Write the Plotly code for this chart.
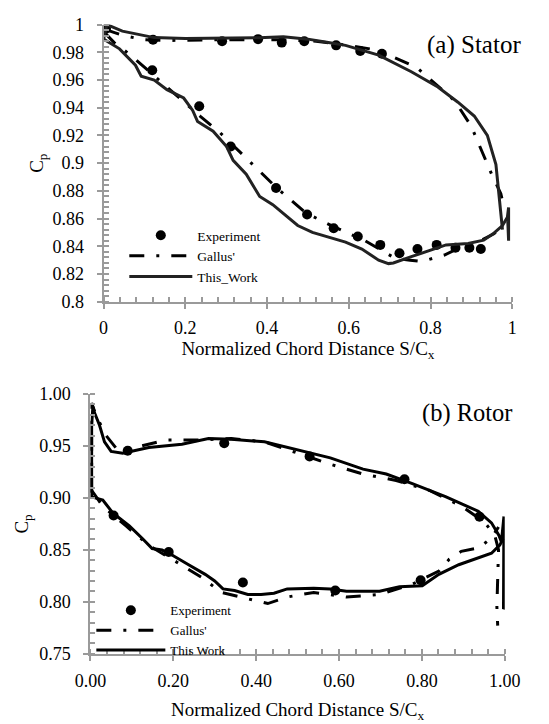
import plotly.graph_objects as go

# ---------------- (a) Stator ----------------
st_exp_x = [0.006, 0.121, 0.290, 0.378, 0.436, 0.491, 0.569, 0.628, 0.681,
            0.119, 0.234, 0.311, 0.422, 0.498, 0.563, 0.622, 0.677, 0.724,
            0.768, 0.815, 0.861, 0.895, 0.923]
st_exp_y = [0.997, 0.989, 0.988, 0.9895, 0.987, 0.988, 0.985, 0.981, 0.979,
            0.967, 0.941, 0.912, 0.882, 0.863, 0.853, 0.847, 0.841, 0.835,
            0.838, 0.841, 0.839, 0.839, 0.838]

st_gal_up_x = [0.003, 0.05, 0.10, 0.15, 0.25, 0.35, 0.44, 0.52, 0.60, 0.673,
               0.766, 0.859, 0.899, 0.951, 0.972, 0.978]
st_gal_up_y = [0.9965, 0.992, 0.989, 0.9885, 0.989, 0.989, 0.989, 0.988, 0.985,
               0.9814, 0.969, 0.945, 0.927, 0.891, 0.878, 0.870]
st_gal_lo_x = [0.003, 0.026, 0.066, 0.139, 0.171, 0.236, 0.285, 0.373, 0.422,
               0.495, 0.559, 0.640, 0.713, 0.75, 0.778, 0.834, 0.875, 0.915,
               0.955, 0.980]
st_gal_lo_y = [0.994, 0.987, 0.978, 0.959, 0.951, 0.934, 0.922, 0.8965, 0.8826,
               0.864, 0.8547, 0.844, 0.8314, 0.830, 0.829, 0.8337, 0.8395, 0.843,
               0.849, 0.8547]

st_tw_up_x = [0.000, 0.008, 0.046, 0.124, 0.2, 0.3, 0.38, 0.44, 0.50, 0.55,
              0.592, 0.673, 0.753, 0.818, 0.867, 0.907, 0.939, 0.960, 0.966,
              0.972, 0.976]
st_tw_up_y = [0.9895, 1.000, 0.9953, 0.9906, 0.990, 0.990, 0.9905, 0.9912,
              0.9895, 0.987, 0.985, 0.978, 0.966, 0.955, 0.944, 0.934, 0.920,
              0.899, 0.882, 0.862, 0.852]
st_tw_lo_x = [0.000, 0.039, 0.078, 0.092, 0.124, 0.155, 0.196, 0.218, 0.230,
              0.268, 0.301, 0.317, 0.349, 0.382, 0.414, 0.446, 0.475, 0.511,
              0.592, 0.632, 0.673, 0.697, 0.709, 0.753, 0.802, 0.838, 0.892,
              0.930, 0.953, 0.976, 0.988, 0.991, 0.991, 0.989]
st_tw_lo_y = [0.9895, 0.9825, 0.9707, 0.9628, 0.960, 0.953, 0.947, 0.938, 0.930,
              0.923, 0.912, 0.902, 0.892, 0.876, 0.870, 0.862, 0.855, 0.850,
              0.843, 0.838, 0.830, 0.8275, 0.828, 0.8325, 0.8374, 0.841, 0.842,
              0.8444, 0.849, 0.855, 0.861, 0.868, 0.844, 0.858]

# ---------------- (b) Rotor ----------------
ro_exp_x = [0.090, 0.323, 0.529, 0.758, 0.939, 0.056, 0.189, 0.368, 0.591, 0.797]
ro_exp_y = [0.9455, 0.9526, 0.940, 0.918, 0.882, 0.883, 0.848, 0.8186, 0.8108, 0.8208]

ro_gal_up_x = [0.003, 0.003, 0.014, 0.038, 0.062, 0.102, 0.181, 0.261, 0.340,
               0.420, 0.499, 0.579, 0.658, 0.738, 0.817, 0.897, 0.952, 0.976,
               0.985, 0.982, 0.981, 0.983]
ro_gal_up_y = [0.905, 0.9915, 0.979, 0.960, 0.948, 0.948, 0.9557, 0.9557, 0.9573,
               0.954, 0.9433, 0.9324, 0.923, 0.9168, 0.9074, 0.8918, 0.8763,
               0.8638, 0.850, 0.820, 0.795, 0.777]
ro_gal_lo_x = [0.003, 0.030, 0.086, 0.141, 0.205, 0.269, 0.316, 0.380, 0.428,
               0.475, 0.539, 0.618, 0.698, 0.777, 0.841, 0.866, 0.895, 0.938,
               0.968, 0.985]
ro_gal_lo_y = [0.9074, 0.892, 0.873, 0.8544, 0.839, 0.8233, 0.809, 0.803, 0.7983,
               0.8046, 0.809, 0.8046, 0.807, 0.817, 0.8295, 0.841, 0.8486, 0.852,
               0.8614, 0.872]

ro_tw_up_x = [0.003, 0.003, 0.006, 0.010, 0.022, 0.034, 0.050, 0.078, 0.141,
              0.221, 0.285, 0.340, 0.420, 0.499, 0.579, 0.658, 0.714, 0.777,
              0.857, 0.936, 0.968, 0.986, 0.992, 0.998, 0.998, 0.997, 1.000]
ro_tw_up_y = [0.901, 0.970, 0.988, 0.982, 0.970, 0.954, 0.9448, 0.943, 0.9486,
              0.9517, 0.9573, 0.9564, 0.954, 0.9464, 0.9386, 0.9277, 0.923,
              0.9137, 0.9012, 0.8872, 0.876, 0.8638, 0.8576, 0.882, 0.82, 0.793,
              0.795]
ro_tw_lo_x = [0.003, 0.030, 0.054, 0.094, 0.126, 0.149, 0.173, 0.197, 0.237,
              0.277, 0.300, 0.320, 0.348, 0.380, 0.412, 0.443, 0.475, 0.539,
              0.579, 0.618, 0.698, 0.746, 0.801, 0.841, 0.889, 0.936, 0.968,
              0.988, 0.996]
ro_tw_lo_y = [0.901, 0.898, 0.8856, 0.873, 0.8607, 0.8513, 0.8498, 0.845, 0.8357,
              0.8264, 0.820, 0.8124, 0.8108, 0.807, 0.807, 0.8083, 0.8124, 0.813,
              0.8124, 0.8102, 0.8102, 0.8146, 0.8155, 0.8264, 0.8357, 0.842,
              0.8467, 0.8545, 0.8607]

FONT = "Liberation Serif"
DASHDOT = "15px,12px,3px,12px"
W = 549
H = 724


def joined(a, b):
    return list(a) + [None] + list(b)


def f(size):
    return dict(family=FONT, size=size, color="black")


fig = go.Figure()

# Stator traces
fig.add_trace(go.Scatter(x=st_exp_x, y=st_exp_y, mode="markers", name="Experiment",
                         marker=dict(color="black", size=10),
                         xaxis="x", yaxis="y", legend="legend"))
fig.add_trace(go.Scatter(x=joined(st_gal_up_x, st_gal_lo_x),
                         y=joined(st_gal_up_y, st_gal_lo_y),
                         mode="lines", name="Gallus'",
                         line=dict(color="black", width=3, dash=DASHDOT),
                         xaxis="x", yaxis="y", legend="legend"))
fig.add_trace(go.Scatter(x=joined(st_tw_up_x, st_tw_lo_x),
                         y=joined(st_tw_up_y, st_tw_lo_y),
                         mode="lines", name="This_Work",
                         line=dict(color="#222222", width=3),
                         xaxis="x", yaxis="y", legend="legend"))

# Rotor traces
fig.add_trace(go.Scatter(x=ro_exp_x, y=ro_exp_y, mode="markers", name="Experiment",
                         marker=dict(color="black", size=10),
                         xaxis="x2", yaxis="y2", legend="legend2"))
fig.add_trace(go.Scatter(x=joined(ro_gal_up_x, ro_gal_lo_x),
                         y=joined(ro_gal_up_y, ro_gal_lo_y),
                         mode="lines", name="Gallus'",
                         line=dict(color="black", width=3, dash=DASHDOT),
                         xaxis="x2", yaxis="y2", legend="legend2"))
fig.add_trace(go.Scatter(x=joined(ro_tw_up_x, ro_tw_lo_x),
                         y=joined(ro_tw_up_y, ro_tw_lo_y),
                         mode="lines", name="This Work",
                         line=dict(color="black", width=3),
                         xaxis="x2", yaxis="y2", legend="legend2"))

AX = "#9a9a9a"
common = dict(showgrid=False, zeroline=False, showline=True, linecolor=AX,
              linewidth=2, ticks="outside", ticklen=5, tickwidth=2, tickcolor=AX,
              tickfont=f(18))
minor_common = dict(ticks="inside", ticklen=5, tickwidth=1.5, tickcolor=AX)

x_title = "Normalized Chord Distance S/C<sub>x</sub>"

fig.update_layout(
    width=W, height=H,
    margin=dict(l=0, r=0, t=0, b=0),
    paper_bgcolor="white", plot_bgcolor="white",
    font=f(14),
    xaxis=dict(domain=[93 / W, 527 / W], anchor="y", range=[0, 1],
               tickvals=[0, 0.2, 0.4, 0.6, 0.8, 1],
               ticktext=["0", "0.2", "0.4", "0.6", "0.8", "1"],
               ticklabelstandoff=4,
               minor=dict(dtick=0.04, **minor_common),
               title=dict(text=x_title, font=f(19), standoff=1),
               **common),
    yaxis=dict(domain=[1 - 300 / H, 1 - 15 / H], anchor="x", range=[0.8, 1],
               tickvals=[0.8, 0.82, 0.84, 0.86, 0.88, 0.9, 0.92, 0.94, 0.96, 0.98, 1],
               ticktext=["0.8", "0.82", "0.84", "0.86", "0.88", "0.9", "0.92",
                         "0.94", "0.96", "0.98", "1"],
               ticklabelstandoff=9,
               minor=dict(dtick=0.004, **minor_common),
               title=dict(text="C<sub>p</sub>", font=f(19), standoff=4),
               **common),
    xaxis2=dict(domain=[79 / W, 519 / W], anchor="y2", range=[0, 1],
                tickvals=[0, 0.2, 0.4, 0.6, 0.8, 1],
                ticktext=["0.00", "0.20", "0.40", "0.60", "0.80", "1.00"],
                ticklabelstandoff=5,
                minor=dict(dtick=0.04, **minor_common),
                title=dict(text=x_title, font=f(19), standoff=12),
                **common),
    yaxis2=dict(domain=[1 - 662 / H, 1 - 395 / H], anchor="x2", range=[0.75, 1],
                tickvals=[0.75, 0.8, 0.85, 0.9, 0.95, 1.0],
                ticktext=["0.75", "0.80", "0.85", "0.90", "0.95", "1.00"],
                ticklabelstandoff=9,
                minor=dict(dtick=0.01, **minor_common),
                title=dict(text="C<sub>p</sub>", font=f(19), standoff=6),
                **common),
    legend=dict(x=115 / W, y=1 - 216 / H, xanchor="left", yanchor="top",
                bgcolor="rgba(0,0,0,0)", itemwidth=63, tracegroupgap=0,
                font=f(13.5)),
    legend2=dict(x=80 / W, y=1 - 602 / H, xanchor="left", yanchor="top",
                 bgcolor="rgba(0,0,0,0)", itemwidth=69, tracegroupgap=0,
                 font=f(13)),
    annotations=[
        dict(text="(a) Stator", x=538 / W, y=1 - 36 / H, xref="paper", yref="paper",
             xanchor="right", yanchor="middle", showarrow=False, font=f(25)),
        dict(text="(b) Rotor", x=530 / W, y=1 - 414 / H, xref="paper", yref="paper",
             xanchor="right", yanchor="middle", showarrow=False, font=f(24.5)),
    ],
)

fig.write_html("out.html",
               config={"displayModeBar": False},
               post_script="document.body.style.margin='0';document.body.style.overflow='hidden';")
